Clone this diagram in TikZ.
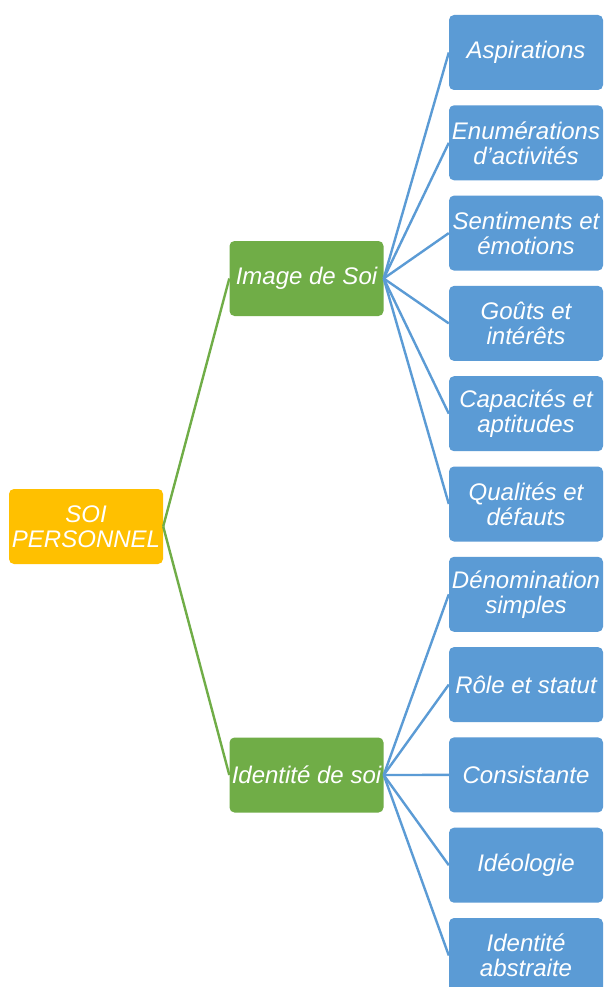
\documentclass[tikz,border=0pt]{standalone}
\usepackage{fontspec}
\setmainfont{Liberation Sans}
\definecolor{rootfill}{HTML}{FFC000}
\definecolor{midfill}{HTML}{70AD47}
\definecolor{leaffill}{HTML}{5B9BD5}
\tikzset{
  box/.style={rectangle, rounded corners=5pt, minimum width=154pt, minimum height=75pt,
    inner sep=0pt, align=center, text=white,
    font=\fontsize{24}{25}\selectfont\itshape},
  rootbox/.style={box, fill=rootfill},
  midbox/.style={box, fill=midfill},
  leafbox/.style={box, fill=leaffill},
  midlink/.style={draw=midfill, line width=2.4pt},
  leaflink/.style={draw=leaffill, line width=2.4pt}
}
\begin{document}
\begin{tikzpicture}[x=1pt,y=-1pt]
  \clip (0,0) rectangle (603,987);
  \fill[white] (0,0) rectangle (603,987);

  % root and the two branches
  \node[rootbox] (root) at (86,526.5) {SOI\\PERSONNEL};
  \node[midbox] (img) at (306.5,278.5) {Image de Soi};
  \node[midbox] (idt) at (306.5,775) {Identité de soi};

  % leaves
  \node[leafbox] (l1)  at (526,52.5)  {Aspirations};
  \node[leafbox] (l2)  at (526,142.8) {Enumérations\\d'activités};
  \node[leafbox] (l3)  at (526,233.1) {Sentiments et\\émotions};
  \node[leafbox] (l4)  at (526,323.4) {Goûts et\\intérêts};
  \node[leafbox] (l5)  at (526,413.7) {Capacités et\\aptitudes};
  \node[leafbox] (l6)  at (526,504.0) {Qualités et\\défauts};
  \node[leafbox] (l7)  at (526,594.3) {Dénomination\\simples};
  \node[leafbox] (l8)  at (526,684.6) {Rôle et statut};
  \node[leafbox] (l9)  at (526,774.9) {Consistante};
  \node[leafbox] (l10) at (526,865.2) {Idéologie};
  \node[leafbox] (l11) at (526,955.5) {Identité\\abstraite};

  % connectors
  \draw[midlink] (root.east) -- (img.west);
  \draw[midlink] (root.east) -- (idt.west);
  \foreach \k in {1,...,6} \draw[leaflink] (img.east) -- (l\k.west);
  \foreach \k in {7,...,11} \draw[leaflink] (idt.east) -- (l\k.west);
\end{tikzpicture}
\end{document}
